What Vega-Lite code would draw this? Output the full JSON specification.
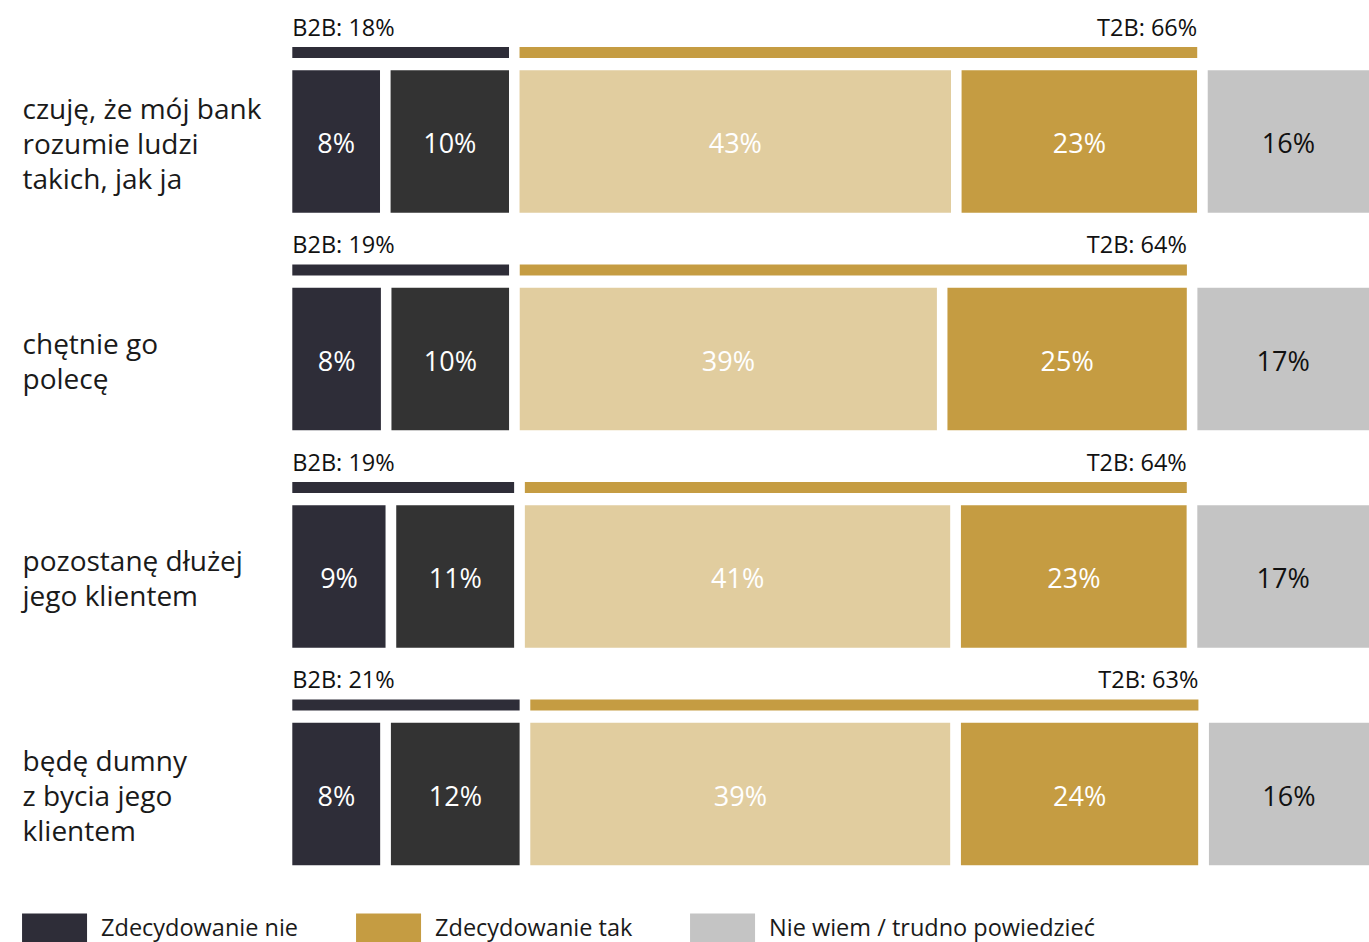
{
  "$schema": "https://vega.github.io/schema/vega-lite/v6.json",
  "width": 1081.95,
  "height": 870,
  "autosize": {"type": "none"},
  "padding": {"left": 287.05, "top": 32.75, "right": 0, "bottom": 39.25},
  "background": "white",
  "config": {"view": {"stroke": null}, "font": "Open Sans"},
  "datasets": {
    "seg": [
      {"q": "czuję, że mój bank|rozumie ludzi|takich, jak ja", "cat": "Zdecydowanie nie", "n": 1, "v": 9.04, "label": "8%"},
      {"q": "czuję, że mój bank|rozumie ludzi|takich, jak ja", "cat": "Raczej nie", "n": 2, "v": 11.86, "label": "10%"},
      {"q": "czuję, że mój bank|rozumie ludzi|takich, jak ja", "cat": "Raczej tak", "n": 3, "v": 40.66, "label": "43%"},
      {"q": "czuję, że mój bank|rozumie ludzi|takich, jak ja", "cat": "Zdecydowanie tak", "n": 4, "v": 22.64, "label": "23%"},
      {"q": "czuję, że mój bank|rozumie ludzi|takich, jak ja", "cat": "Nie wiem / trudno powiedzieć", "n": 5, "v": 15.80, "label": "16%"},
      {"q": "chętnie go|polecę", "cat": "Zdecydowanie nie", "n": 1, "v": 9.12, "label": "8%"},
      {"q": "chętnie go|polecę", "cat": "Raczej nie", "n": 2, "v": 11.80, "label": "10%"},
      {"q": "chętnie go|polecę", "cat": "Raczej tak", "n": 3, "v": 39.34, "label": "39%"},
      {"q": "chętnie go|polecę", "cat": "Zdecydowanie tak", "n": 4, "v": 22.99, "label": "25%"},
      {"q": "chętnie go|polecę", "cat": "Nie wiem / trudno powiedzieć", "n": 5, "v": 16.75, "label": "17%"},
      {"q": "pozostanę dłużej|jego klientem", "cat": "Zdecydowanie nie", "n": 1, "v": 9.56, "label": "9%"},
      {"q": "pozostanę dłużej|jego klientem", "cat": "Raczej nie", "n": 2, "v": 11.83, "label": "11%"},
      {"q": "pozostanę dłużej|jego klientem", "cat": "Raczej tak", "n": 3, "v": 40.11, "label": "41%"},
      {"q": "pozostanę dłużej|jego klientem", "cat": "Zdecydowanie tak", "n": 4, "v": 21.74, "label": "23%"},
      {"q": "pozostanę dłużej|jego klientem", "cat": "Nie wiem / trudno powiedzieć", "n": 5, "v": 16.76, "label": "17%"},
      {"q": "będę dumny|z bycia jego|klientem", "cat": "Zdecydowanie nie", "n": 1, "v": 9.07, "label": "8%"},
      {"q": "będę dumny|z bycia jego|klientem", "cat": "Raczej nie", "n": 2, "v": 12.82, "label": "12%"},
      {"q": "będę dumny|z bycia jego|klientem", "cat": "Raczej tak", "n": 3, "v": 39.61, "label": "39%"},
      {"q": "będę dumny|z bycia jego|klientem", "cat": "Zdecydowanie tak", "n": 4, "v": 22.81, "label": "24%"},
      {"q": "będę dumny|z bycia jego|klientem", "cat": "Nie wiem / trudno powiedzieć", "n": 5, "v": 15.69, "label": "16%"}
    ],
    "top": [
      {"q": "czuję, że mój bank|rozumie ludzi|takich, jak ja", "grp": "B2B", "start": 0, "end": 20.90, "label": "B2B: 18%"},
      {"q": "czuję, że mój bank|rozumie ludzi|takich, jak ja", "grp": "T2B", "start": 20.90, "end": 84.20, "label": "T2B: 66%"},
      {"q": "chętnie go|polecę", "grp": "B2B", "start": 0, "end": 20.92, "label": "B2B: 19%"},
      {"q": "chętnie go|polecę", "grp": "T2B", "start": 20.92, "end": 83.25, "label": "T2B: 64%"},
      {"q": "pozostanę dłużej|jego klientem", "grp": "B2B", "start": 0, "end": 21.39, "label": "B2B: 19%"},
      {"q": "pozostanę dłużej|jego klientem", "grp": "T2B", "start": 21.39, "end": 83.24, "label": "T2B: 64%"},
      {"q": "będę dumny|z bycia jego|klientem", "grp": "B2B", "start": 0, "end": 21.89, "label": "B2B: 21%"},
      {"q": "będę dumny|z bycia jego|klientem", "grp": "T2B", "start": 21.89, "end": 84.31, "label": "T2B: 63%"}
    ]
  },
  "encoding": {
    "y": {
      "field": "q",
      "type": "nominal",
      "sort": null,
      "scale": {
        "domain": ["czuję, że mój bank|rozumie ludzi|takich, jak ja", "chętnie go|polecę", "pozostanę dłużej|jego klientem", "będę dumny|z bycia jego|klientem"],
        "paddingInner": 0,
        "paddingOuter": 0
      },
      "axis": {
        "title": null,
        "domain": false,
        "ticks": false,
        "tickSize": 0,
        "grid": false,
        "labelPadding": 265,
        "labelAlign": "left",
        "labelBaseline": "middle",
        "labelFontSize": 28,
        "labelColor": "#1a1a1a",
        "labelLineHeight": 35,
        "labelOffset": {"condition": {"test": "length(split(datum.value, '|')) == 3", "value": -31}, "value": -13.5},
        "labelLimit": 0,
        "labelExpr": "split(datum.label, '|')"
      }
    }
  },
  "layer": [
    {
      "data": {"name": "top"},
      "mark": {"type": "bar", "height": 21.5, "yOffset": -89, "stroke": "white", "strokeWidth": 10.5},
      "encoding": {
        "x": {"field": "start", "type": "quantitative", "scale": {"domain": [0, 100], "range": [0, 1087.2], "nice": false, "zero": true}, "axis": null},
        "x2": {"field": "end"},
        "color": {"condition": {"test": "datum.grp === 'B2B'", "value": "#2e2d38"}, "value": "#c59c42"}
      }
    },
    {
      "data": {"name": "seg"},
      "transform": [
        {"stack": "v", "groupby": ["q"], "sort": [{"field": "n", "order": "ascending"}], "as": ["x0", "x1"]}
      ],
      "mark": {"type": "bar", "height": 153, "stroke": "white", "strokeWidth": 10.5},
      "encoding": {
        "x": {"field": "x0", "type": "quantitative"},
        "x2": {"field": "x1"},
        "color": {
          "field": "cat",
          "type": "nominal",
          "scale": {
            "domain": ["Zdecydowanie nie", "Raczej nie", "Raczej tak", "Zdecydowanie tak", "Nie wiem / trudno powiedzieć"],
            "range": ["#2e2d38", "#333333", "#e1cd9f", "#c59c42", "#c4c4c4"]
          },
          "legend": {
            "orient": "none",
            "legendX": -265,
            "legendY": 863.5,
            "direction": "horizontal",
            "title": null,
            "values": ["Zdecydowanie nie", "Zdecydowanie tak", "Nie wiem / trudno powiedzieć"],
            "symbolType": "M-1,-0.48H1V0.48H-1Z",
            "symbolSize": 4225,
            "symbolStrokeWidth": 0,
            "symbolStrokeColor": "transparent",
            "symbolOpacity": 1,
            "labelFontSize": 23.5,
            "labelFont": "Open Sans",
            "labelColor": "#1a1a1a",
            "labelOffset": 14,
            "labelLimit": 0,
            "columnPadding": 57,
            "padding": 0
          }
        }
      }
    },
    {
      "data": {"name": "seg"},
      "transform": [
        {"stack": "v", "groupby": ["q"], "sort": [{"field": "n", "order": "ascending"}], "as": ["x0", "x1"]},
        {"calculate": "(datum.x0 + datum.x1) / 2", "as": "mid"}
      ],
      "mark": {"type": "text", "fontSize": 27, "align": "center", "baseline": "middle", "dy": 3.5},
      "encoding": {
        "x": {"field": "mid", "type": "quantitative"},
        "text": {"field": "label"},
        "color": {"condition": {"test": "datum.n === 5", "value": "#111111"}, "value": "#ffffff"}
      }
    },
    {
      "data": {"name": "top"},
      "transform": [{"filter": "datum.grp === 'B2B'"}],
      "mark": {"type": "text", "fontSize": 23.5, "align": "left", "baseline": "alphabetic", "yOffset": -106, "dx": 5.25, "color": "#111111"},
      "encoding": {
        "x": {"field": "start", "type": "quantitative"},
        "text": {"field": "label"}
      }
    },
    {
      "data": {"name": "top"},
      "transform": [{"filter": "datum.grp === 'T2B'"}],
      "mark": {"type": "text", "fontSize": 23.5, "align": "right", "baseline": "alphabetic", "yOffset": -106, "dx": -5.25, "color": "#111111"},
      "encoding": {
        "x": {"field": "end", "type": "quantitative"},
        "text": {"field": "label"}
      }
    }
  ]
}
